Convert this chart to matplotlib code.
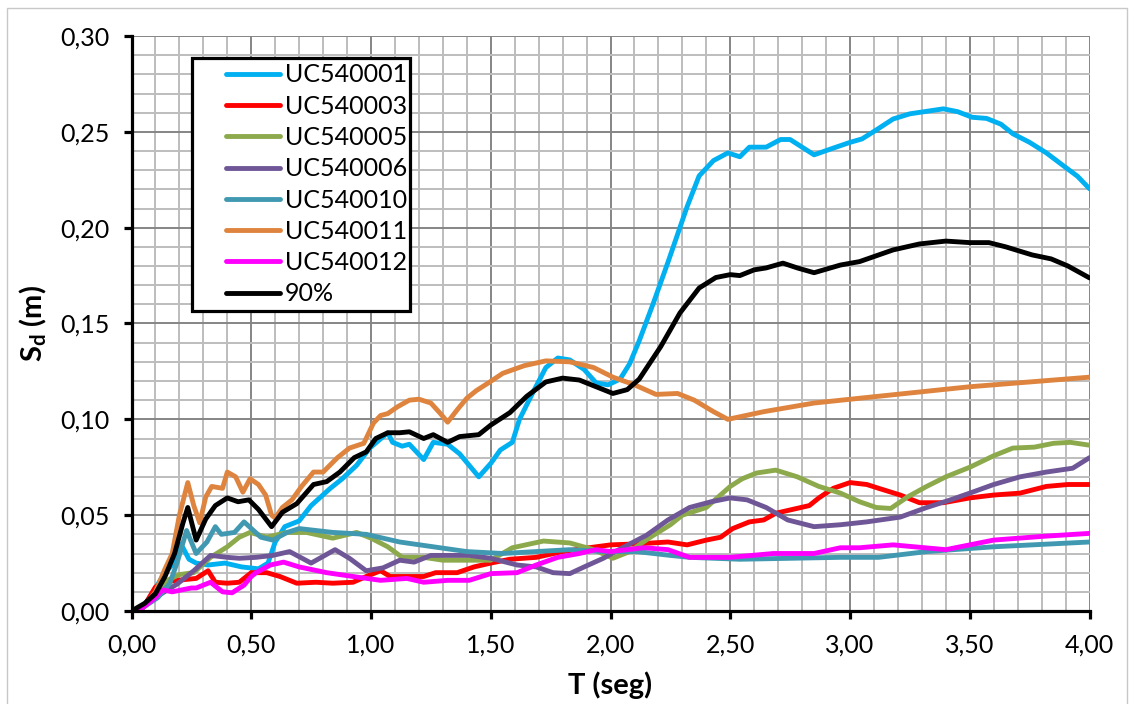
import matplotlib
matplotlib.use('Agg')
import numpy as np
import matplotlib.pyplot as plt
from matplotlib.ticker import MultipleLocator, FuncFormatter
from matplotlib.legend_handler import HandlerLine2D
from matplotlib.patches import Rectangle

# Spectral displacement per record, T (s) vs Sd (m)
t_001 = [0, 0.05, 0.10, 0.14, 0.17, 0.20, 0.215, 0.24, 0.27, 0.32, 0.39, 0.46, 0.53, 0.57, 0.60, 0.64, 0.70,
         0.75, 0.83, 0.88, 0.94, 0.995, 1.07, 1.09, 1.13, 1.16, 1.22, 1.26, 1.32, 1.37, 1.45, 1.50, 1.54, 1.59,
         1.62, 1.68, 1.73, 1.78, 1.83, 1.89, 1.94, 1.99, 2.04, 2.08, 2.12, 2.18, 2.24, 2.32, 2.37, 2.43, 2.49,
         2.54, 2.58, 2.65, 2.71, 2.75, 2.80, 2.85, 2.93, 3.00, 3.05, 3.11, 3.18, 3.25, 3.32, 3.39, 3.45, 3.51,
         3.57, 3.63, 3.68, 3.75, 3.82, 3.89, 3.95, 4.00]
sd_001 = [0, 0.002, 0.012, 0.020, 0.024, 0.035, 0.033, 0.027, 0.025, 0.024, 0.025, 0.023, 0.022, 0.025, 0.036,
          0.044, 0.047, 0.055, 0.064, 0.069, 0.076, 0.085, 0.093, 0.088, 0.086, 0.087, 0.079, 0.088, 0.087, 0.082,
          0.070, 0.077, 0.084, 0.088, 0.100, 0.115, 0.127, 0.132, 0.131, 0.126, 0.119, 0.118, 0.121, 0.129, 0.141,
          0.161, 0.182, 0.211, 0.227, 0.235, 0.239, 0.237, 0.242, 0.242, 0.246, 0.246, 0.242, 0.238, 0.2415,
          0.2445, 0.2463, 0.251, 0.2567, 0.2594, 0.2607, 0.262, 0.2605, 0.2576, 0.257, 0.254, 0.249, 0.2445,
          0.239, 0.2324, 0.2268, 0.2203]

t_003 = [0, 0.05, 0.10, 0.13, 0.19, 0.27, 0.32, 0.35, 0.40, 0.45, 0.50, 0.565, 0.62, 0.69, 0.77, 0.84, 0.925,
         0.98, 1.04, 1.08, 1.15, 1.22, 1.27, 1.36, 1.43, 1.50, 1.58, 1.69, 1.80, 1.91, 2.00, 2.11, 2.24, 2.32,
         2.40, 2.46, 2.51, 2.58, 2.64, 2.69, 2.76, 2.83, 2.87, 2.93, 3.00, 3.07, 3.12, 3.21, 3.29, 3.39, 3.50,
         3.60, 3.71, 3.82, 3.91, 4.00]
sd_003 = [0, 0.002, 0.0125, 0.015, 0.016, 0.017, 0.021, 0.015, 0.0145, 0.015, 0.020, 0.020, 0.018, 0.0145,
          0.015, 0.0145, 0.015, 0.018, 0.021, 0.018, 0.018, 0.018, 0.020, 0.020, 0.023, 0.025, 0.027, 0.028,
          0.031, 0.033, 0.0345, 0.035, 0.036, 0.0345, 0.037, 0.0385, 0.043, 0.0465, 0.0475, 0.051, 0.053, 0.055,
          0.059, 0.064, 0.067, 0.066, 0.064, 0.0605, 0.0565, 0.0565, 0.059, 0.0605, 0.0615, 0.065, 0.066, 0.066]

t_005 = [0, 0.05, 0.10, 0.15, 0.20, 0.26, 0.33, 0.40, 0.45, 0.495, 0.565, 0.65, 0.73, 0.84, 0.94, 1.00, 1.07,
         1.13, 1.22, 1.30, 1.39, 1.50, 1.59, 1.72, 1.83, 1.93, 2.01, 2.08, 2.16, 2.25, 2.30, 2.40, 2.50, 2.55,
         2.61, 2.69, 2.78, 2.87, 2.96, 3.04, 3.11, 3.17, 3.24, 3.32, 3.40, 3.50, 3.60, 3.68, 3.77, 3.85, 3.92, 4.00]
sd_005 = [0, 0.002, 0.009, 0.016, 0.019, 0.020, 0.028, 0.0335, 0.0385, 0.041, 0.0385, 0.041, 0.041, 0.038,
          0.041, 0.038, 0.0335, 0.028, 0.028, 0.0265, 0.0265, 0.0265, 0.033, 0.0365, 0.0355, 0.032, 0.0275,
          0.031, 0.038, 0.045, 0.050, 0.054, 0.065, 0.069, 0.072, 0.0735, 0.070, 0.065, 0.0615, 0.057, 0.054,
          0.0535, 0.0595, 0.065, 0.070, 0.075, 0.081, 0.085, 0.0855, 0.0875, 0.088, 0.0865]

t_006 = [0, 0.05, 0.10, 0.15, 0.19, 0.26, 0.33, 0.40, 0.45, 0.52, 0.59, 0.66, 0.75, 0.85, 0.91, 0.98, 1.05,
         1.12, 1.18, 1.25, 1.33, 1.41, 1.50, 1.61, 1.69, 1.76, 1.83, 1.89, 1.97, 2.05, 2.15, 2.24, 2.33, 2.42,
         2.50, 2.57, 2.65, 2.74, 2.85, 2.96, 3.07, 3.21, 3.32, 3.42, 3.50, 3.60, 3.71, 3.82, 3.93, 4.00]
sd_006 = [0, 0.002, 0.007, 0.011, 0.014, 0.021, 0.029, 0.028, 0.0275, 0.028, 0.029, 0.031, 0.025, 0.032,
          0.0275, 0.021, 0.0225, 0.0265, 0.0255, 0.029, 0.029, 0.029, 0.0275, 0.024, 0.023, 0.020, 0.0195,
          0.023, 0.0275, 0.033, 0.0395, 0.0475, 0.054, 0.057, 0.059, 0.058, 0.054, 0.0475, 0.044, 0.045, 0.0465,
          0.049, 0.054, 0.058, 0.0615, 0.066, 0.070, 0.0725, 0.0745, 0.080]

t_010 = [0, 0.05, 0.11, 0.16, 0.19, 0.23, 0.27, 0.315, 0.35, 0.375, 0.43, 0.47, 0.54, 0.59, 0.65, 0.70, 0.84,
         0.98, 1.12, 1.26, 1.40, 1.55, 1.69, 1.83, 1.97, 2.11, 2.25, 2.33, 2.54, 2.75, 2.96, 3.12, 3.32, 3.60, 4.00]
sd_010 = [0, 0.002, 0.007, 0.0145, 0.025, 0.042, 0.030, 0.036, 0.044, 0.040, 0.041, 0.0465, 0.0385, 0.037,
          0.041, 0.043, 0.041, 0.040, 0.036, 0.0335, 0.031, 0.030, 0.031, 0.032, 0.031, 0.031, 0.029, 0.028,
          0.027, 0.0275, 0.028, 0.028, 0.031, 0.0335, 0.036]

t_011 = [0, 0.05, 0.10, 0.14, 0.17, 0.20, 0.235, 0.26, 0.285, 0.31, 0.335, 0.38, 0.40, 0.435, 0.465, 0.495,
         0.53, 0.56, 0.585, 0.60, 0.63, 0.67, 0.71, 0.76, 0.80, 0.86, 0.91, 0.97, 1.01, 1.04, 1.07, 1.11, 1.16,
         1.20, 1.25, 1.29, 1.32, 1.36, 1.40, 1.44, 1.49, 1.55, 1.64, 1.73, 1.83, 1.93, 2.01, 2.10, 2.19, 2.28,
         2.35, 2.43, 2.49, 2.64, 2.85, 3.04, 3.50, 4.00]
sd_011 = [0, 0.002, 0.010, 0.022, 0.030, 0.050, 0.067, 0.055, 0.046, 0.0595, 0.065, 0.064, 0.0725, 0.070,
          0.062, 0.069, 0.066, 0.0605, 0.050, 0.0485, 0.054, 0.058, 0.065, 0.0725, 0.0725, 0.080, 0.085, 0.0875,
          0.098, 0.102, 0.103, 0.1065, 0.110, 0.1105, 0.1085, 0.103, 0.0985, 0.105, 0.111, 0.115, 0.119, 0.124,
          0.128, 0.1305, 0.130, 0.127, 0.122, 0.118, 0.113, 0.1135, 0.110, 0.104, 0.100, 0.104, 0.1085, 0.111,
          0.117, 0.122]

t_012 = [0, 0.05, 0.10, 0.13, 0.17, 0.19, 0.25, 0.27, 0.33, 0.38, 0.42, 0.47, 0.50, 0.52, 0.58, 0.635, 0.70,
         0.815, 0.925, 1.04, 1.15, 1.22, 1.32, 1.41, 1.50, 1.61, 1.69, 1.78, 1.87, 1.94, 2.00, 2.07, 2.14, 2.24,
         2.33, 2.50, 2.68, 2.85, 2.96, 3.04, 3.18, 3.40, 3.60, 3.81, 4.00]
sd_012 = [0, 0.002, 0.007, 0.011, 0.010, 0.0105, 0.012, 0.012, 0.015, 0.010, 0.0095, 0.0135, 0.018, 0.020,
          0.024, 0.0255, 0.023, 0.020, 0.018, 0.016, 0.017, 0.015, 0.016, 0.016, 0.0195, 0.020, 0.024, 0.028,
          0.030, 0.032, 0.031, 0.032, 0.033, 0.032, 0.028, 0.028, 0.030, 0.030, 0.033, 0.033, 0.0345, 0.032,
          0.037, 0.039, 0.0405]

t_p90 = [0, 0.055, 0.10, 0.14, 0.18, 0.215, 0.235, 0.27, 0.31, 0.35, 0.40, 0.445, 0.49, 0.53, 0.585, 0.63,
         0.69, 0.76, 0.815, 0.87, 0.93, 0.98, 1.02, 1.07, 1.12, 1.16, 1.22, 1.26, 1.32, 1.37, 1.45, 1.50, 1.58,
         1.65, 1.73, 1.80, 1.87, 1.94, 2.01, 2.07, 2.12, 2.21, 2.29, 2.37, 2.44, 2.50, 2.54, 2.60, 2.65, 2.72,
         2.78, 2.85, 2.96, 3.04, 3.18, 3.29, 3.40, 3.50, 3.58, 3.65, 3.76, 3.84, 3.91, 4.00]
sd_p90 = [0, 0.004, 0.009, 0.018, 0.030, 0.046, 0.054, 0.037, 0.048, 0.055, 0.059, 0.057, 0.058, 0.053, 0.044,
          0.0515, 0.056, 0.066, 0.0675, 0.0725, 0.080, 0.083, 0.090, 0.093, 0.093, 0.0935, 0.090, 0.092, 0.088,
          0.091, 0.092, 0.097, 0.1035, 0.112, 0.1195, 0.1215, 0.1205, 0.117, 0.1135, 0.1155, 0.121, 0.138,
          0.1555, 0.1685, 0.174, 0.1755, 0.175, 0.178, 0.179, 0.1815, 0.179, 0.1765, 0.1805, 0.1823, 0.1884,
          0.1915, 0.193, 0.1922, 0.1922, 0.190, 0.1858, 0.1837, 0.180, 0.1738]

names = ['UC540001', 'UC540003', 'UC540005', 'UC540006', 'UC540010', 'UC540011', 'UC540012', '90%']
periods = [t_001, t_003, t_005, t_006, t_010, t_011, t_012, t_p90]
values = [sd_001, sd_003, sd_005, sd_006, sd_010, sd_011, sd_012, sd_p90]
colors = ['#00B0F0', '#FF0000', '#8CAA4C', '#6F5797', '#4199B1', '#DE843E', '#FF00FF', '#000000']

plt.rcParams['font.family'] = ['Lato', 'DejaVu Sans']
plt.rcParams['mathtext.fontset'] = 'custom'
plt.rcParams['mathtext.rm'] = 'Lato'
plt.rcParams['mathtext.bf'] = 'Lato:bold'


class OffsetLine(HandlerLine2D):
    # legend sample drawn only on the right part of the handle box
    def create_artists(self, legend, orig_handle, xdescent, ydescent, width, height, fontsize, trans):
        arts = super().create_artists(legend, orig_handle, xdescent, ydescent, width, height, fontsize, trans)
        x = np.asarray(arts[0].get_xdata(), dtype=float)
        y = np.asarray(arts[0].get_ydata(), dtype=float)
        x0, x1 = x[0], x[-1]
        arts[0].set_data(np.linspace(x0 + 0.34 * (x1 - x0), x1, len(y)), y)
        return arts


fig = plt.figure(figsize=(11.34, 7.04), dpi=100)
ax = fig.add_axes([131.5 / 1134, 1 - 611 / 704, 958 / 1134, 575 / 704])

for t, sd, name, c in zip(periods, values, names, colors):
    ax.plot(t, sd, color=c, lw=3.5, label=name, solid_joinstyle='round', solid_capstyle='round')

ax.set_xlim(0, 4)
ax.set_ylim(0, 0.30)
ax.xaxis.set_major_locator(MultipleLocator(0.5))
ax.xaxis.set_minor_locator(MultipleLocator(0.1))
ax.yaxis.set_major_locator(MultipleLocator(0.05))
ax.yaxis.set_minor_locator(MultipleLocator(0.01))
fmt = FuncFormatter(lambda v, p: f'{v:.2f}'.replace('.', ','))
ax.xaxis.set_major_formatter(fmt)
ax.yaxis.set_major_formatter(fmt)

ax.grid(which='minor', color='#BDBDBD', lw=1.4, zorder=0)
ax.grid(which='major', color='#858585', lw=1.4, zorder=0)
ax.set_axisbelow(True)

for side in ['top', 'right']:
    ax.spines[side].set_visible(False)
for side in ['left', 'bottom']:
    ax.spines[side].set_linewidth(2.3)
    ax.spines[side].set_color('black')
    ax.spines[side].set_zorder(5)

ax.tick_params(which='major', direction='out', length=6, width=2.3, color='black', labelsize=18, pad=10)
ax.tick_params(which='minor', length=0)

ax.set_xlabel('T (seg)', fontsize=21, fontweight='bold', labelpad=11)
ax.set_ylabel(r'$\mathbf{S_d}$ (m)', fontsize=21, fontweight='bold', labelpad=8)

# legend box spans x = 192..410 px, top edge at 58 px
leg_x0 = (192 - 131.5) / 958
leg_w = (410 - 192) / 958
leg_top = (611 - 58) / 575
leg = ax.legend(loc='upper left', bbox_to_anchor=(leg_x0, 0, leg_w, leg_top), mode='expand', borderaxespad=0,
                fontsize=18, handlelength=3.3, handletextpad=0.2, labelspacing=0.33, borderpad=0.22,
                fancybox=False, frameon=True, framealpha=1, edgecolor='black',
                handler_map={plt.Line2D: OffsetLine()})
leg.get_frame().set_linewidth(2.3)
for ln in leg.get_lines():
    ln.set_linewidth(3.5)

fig.patches.append(Rectangle((7 / 1134, -0.05), 1120 / 1134, 1.05 - 8 / 704, transform=fig.transFigure,
                             fill=False, edgecolor='#C8C8C8', lw=1.0))

fig.savefig('out.png', dpi=100)
